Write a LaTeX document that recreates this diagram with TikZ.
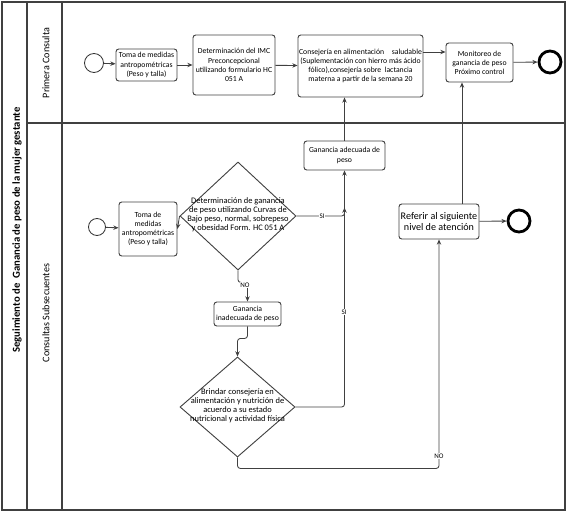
\documentclass[tikz,border=0pt]{standalone}
\usepackage{fontspec}
\setmainfont{Carlito}
\usetikzlibrary{arrows.meta,shapes.geometric}

\begin{document}
\begin{tikzpicture}[x=0.025cm,y=-0.025cm,>={Stealth[length=1.3mm,width=1.1mm]},
  every node/.style={font=\fontsize{5.5}{6.5}\selectfont},
  line/.style={draw=black!75,line width=0.6pt},
  task/.style={draw=black!75,rounded corners=2pt,align=center,inner sep=0pt,line width=0.65pt},
  gate/.style={draw=black!75,diamond,inner sep=0pt,line width=0.65pt},
  gatetext/.style={align=center,inner sep=0pt,font=\fontsize{6}{6.3}\selectfont},
  startev/.style={draw=black!80,circle,inner sep=0pt,line width=0.6pt},
  endev/.style={draw=black,circle,inner sep=0pt,line width=2pt,minimum size=0.55cm},
  tag/.style={fill=white,inner sep=0.4pt,font=\fontsize{5}{5}\selectfont},
  lane/.style={rotate=90,font=\fontsize{7.2}{8}\selectfont}]
\useasboundingbox (0,0) rectangle (567,512);
\draw[black!75,line width=0.9pt] (2,2) rectangle (565,510);
\draw[black!75,line width=0.9pt] (27,2) -- (27,510) (62,2) -- (62,510) (27,123) -- (565,123);
\node[lane,font=\bfseries\fontsize{7.6}{9}\selectfont] (title) at (17,230) {Seguimiento de\ \ Ganancia de peso de la mujer gestante};
\node[lane] (lane1) at (46,63) {Primera Consulta};
\node[lane] (lane2) at (46,313) {Consultas Subsecuentes};

\node[startev,minimum size=0.475cm] (s1) at (94,63) {};
\node[task,minimum width=1.525cm,minimum height=0.8cm] (toma1) at (146.5,65) {Toma de medidas\\antropométricas\\(Peso y talla)};
\node[task,minimum width=2.05cm,minimum height=1.5cm] (imc) at (234,65) {Determinación del IMC\\Preconcepcional\\utilizando formulario HC\\051 A};
\node[task,minimum width=3.125cm,minimum height=1.55cm] (cons) at (360.5,66) {Consejería en alimentación\quad saludable\\(Suplementación con hierro más ácido\\fólico),consejería sobre\ \ lactancia\\materna a partir de la semana 20};
\node[task,minimum width=1.675cm,minimum height=0.975cm] (moni) at (479.5,62.5) {Monitoreo de\\ganancia de peso\\Próximo control};
\node[endev] (e1) at (550,62) {};

\node[startev,minimum size=0.425cm] (s2) at (97,227) {};
\node[task,minimum width=1.45cm,minimum height=1.35cm] (toma2) at (148,229) {Toma de\\medidas\\antropométricas\\(Peso y talla)};
\node[gate,minimum width=2.9cm,minimum height=2.7cm] (d1) at (238,216) {};
\node[gatetext] (d1t) at (238,215) {Determinación de ganancia\\de peso utilizando Curvas de\\Bajo peso, normal, sobrepeso\\y obesidad Form. HC 051 A};
\node[task,minimum width=2.025cm,minimum height=0.725cm] (adec) at (344.5,155.5) {Ganancia adecuada de\\peso};
\node[task,minimum width=1.675cm,minimum height=0.6cm] (inad) at (247.5,314) {Ganancia\\inadecuada de peso};
\node[gate,minimum width=2.875cm,minimum height=2.5cm] (d2) at (237.5,407) {};
\node[gatetext] (d2t) at (237.5,406) {Brindar consejería en\\alimentación y nutrición de\\acuerdo a su estado\\nutricional y actividad física};
\node[task,minimum width=2cm,minimum height=0.875cm,font=\fontsize{7.2}{8.2}\selectfont] (refe) at (439,221.5) {Referir al siguiente\\nivel de atención};
\node[endev] (e2) at (519,221) {};

\coordinate (c2m) at (0,52);
\coordinate (r2m) at (462,0);
\draw[line,->] (s1) -- (toma1);
\draw[line,->] (toma1) -- (imc);
\draw[line,->] (imc) -- (cons);
\draw[line,->] (cons.east |- c2m) -- (moni.west |- c2m);
\draw[line,->] (moni) -- (e1);
\draw[line,->] (adec.north) -- (adec.north |- cons.south);
\draw[line,->] (refe.north -| r2m) -- (moni.south -| r2m);

\draw[line,->] (s2) -- (toma2);
\draw[line,->] (d1.west) -- (toma2.east);
\draw[line,->,rounded corners=2pt] (d1.east) -| ([yshift=6]adec.south |- d1.east);
\node[tag] (si1) at (322,216) {SI};
\draw[line,->,rounded corners=2pt] (d2.east) -| (adec.south);
\node[tag] (si2) at (344,312) {SI};
\draw[line,->,rounded corners=2pt] (d1.south) -- ++(0,12) -| (inad.north);
\node[tag] (no1) at (245,285) {NO};
\draw[line,->,rounded corners=2pt] (inad.south) -- ++(0,12) -| (d2.north);
\draw[line,->,rounded corners=2pt] (d2.south) -- ++(0,11) -| (refe.south);
\node[tag] (no2) at (439,456) {NO};
\draw[line,->] (refe) -- (e2);
\end{tikzpicture}
\end{document}
